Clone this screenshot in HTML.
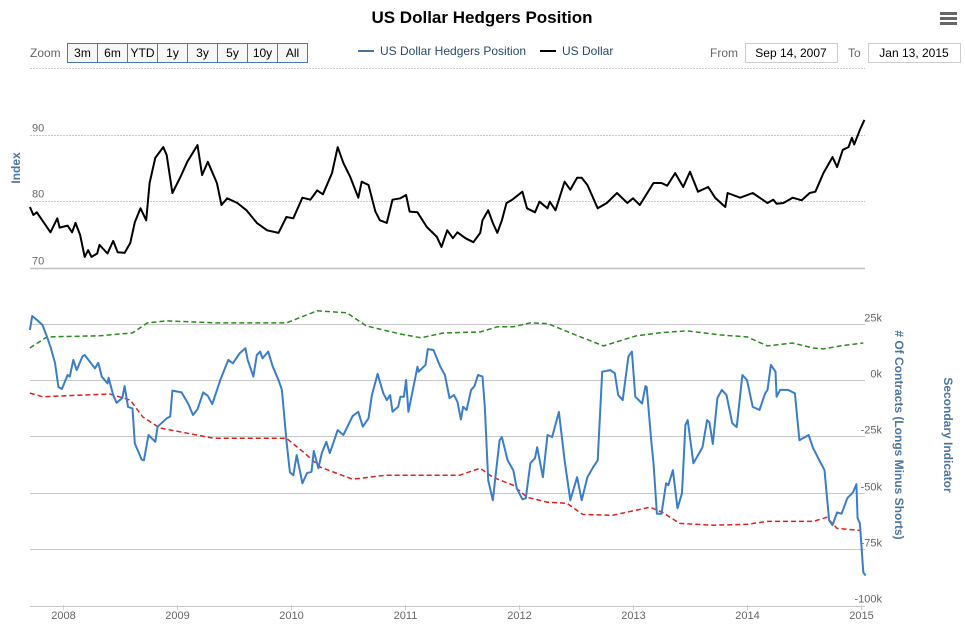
<!DOCTYPE html>
<html><head><meta charset="utf-8"><style>
body{margin:0;background:#fff;font-family:"Liberation Sans",sans-serif;}
svg{display:block}
</style></head><body>
<svg id="chart" width="965" height="628" xmlns="http://www.w3.org/2000/svg">
<text x="482" y="23" text-anchor="middle" font-size="17" font-weight="bold" fill="#000">US Dollar Hedgers Position</text>
<g><rect x="940" y="12" width="17" height="3" fill="#666"/><rect x="940" y="17" width="17" height="3" fill="#666"/><rect x="940" y="22" width="17" height="3" fill="#666"/></g>
<text x="30" y="57" font-size="12" fill="#666">Zoom</text>
<g id="zoomBtns"></g>
<g>
<g><line x1="358" y1="51" x2="374" y2="51" stroke="#4572a7" stroke-width="2"/><text x="380" y="55" font-size="12" fill="#274b6d">US Dollar Hedgers Position</text></g>
<g><line x1="540" y1="51" x2="556" y2="51" stroke="#000" stroke-width="2"/><text x="562" y="55" font-size="12" fill="#274b6d">US Dollar</text></g>
</g>
<text x="710" y="57" font-size="12" fill="#666">From</text>
<g><rect x="745.5" y="43.5" width="92" height="19" fill="#fff" stroke="#ccc"/><text x="791" y="57" text-anchor="middle" font-size="12" fill="#000">Sep 14, 2007</text></g>
<text x="848" y="57" font-size="12" fill="#666">To</text>
<g><rect x="868.5" y="43.5" width="92" height="19" fill="#fff" stroke="#ccc"/><text x="914" y="57" text-anchor="middle" font-size="12" fill="#000">Jan 13, 2015</text></g>
<g id="grid"></g>
<g id="series"></g>
<text transform="translate(20,168) rotate(-90)" text-anchor="middle" font-size="12" font-weight="bold" fill="#4d759e">Index</text>
<text transform="translate(895,435) rotate(90)" text-anchor="middle" font-size="12" font-weight="bold" fill="#4d759e"># Of Contracts (Longs Minus Shorts)</text>
<text transform="translate(944,435) rotate(90)" text-anchor="middle" font-size="12" font-weight="bold" fill="#4d759e">Secondary Indicator</text>
</svg>
<script>
const zoomLabels=["3m","6m","YTD","1y","3y","5y","10y","All"];
const yearTicks=[2008,2009,2010,2011,2012,2013,2014,2015];
const indexTicks=[70,80,90,100];
const contractTicks=[25,0,-25,-50,-75,-100];
const usdDates=[7.71,7.74,7.77,7.89,7.95,7.97,8.04,8.08,8.11,8.15,8.19,8.22,8.25,8.30,8.32,8.39,8.44,8.48,8.54,8.59,8.63,8.68,8.73,8.76,8.81,8.88,8.91,8.96,9.03,9.09,9.18,9.22,9.27,9.35,9.39,9.44,9.53,9.61,9.70,9.79,9.89,9.96,10.02,10.10,10.17,10.23,10.28,10.36,10.41,10.46,10.52,10.59,10.62,10.68,10.74,10.78,10.84,10.89,10.96,11.01,11.04,11.11,11.19,11.28,11.32,11.37,11.42,11.46,11.53,11.60,11.66,11.68,11.73,11.77,11.81,11.85,11.89,11.94,12.03,12.07,12.14,12.18,12.25,12.27,12.32,12.40,12.45,12.51,12.55,12.60,12.69,12.77,12.86,12.95,13.00,13.06,13.18,13.25,13.30,13.37,13.44,13.50,13.57,13.66,13.72,13.81,13.83,13.94,14.05,14.18,14.23,14.26,14.32,14.40,14.48,14.55,14.60,14.67,14.75,14.79,14.84,14.89,14.92,14.94,14.99,15.03];
const usdValues=[79.1,77.9,78.3,75.3,77.4,76,76.3,75.3,76.7,74.9,71.6,72.6,71.6,72.1,73.4,72.1,74,72.3,72.2,73.7,76.8,78.9,77.1,82.7,86.5,88.1,86.9,81.2,83.6,85.9,88.4,83.9,85.9,82.7,79.4,80.4,79.7,78.6,76.7,75.6,75.2,77.6,77.4,80.5,80.2,81.6,81,84.2,88.1,85.7,83.6,80.5,82.9,82.4,78.4,77.1,76.7,80.2,80.4,80.9,78.4,78.3,76.1,74.6,73.1,75.6,74.4,75.3,74.4,73.8,75.2,77.1,78.6,76.7,75.2,77.1,79.7,80.2,81.4,78.9,78.3,79.9,78.9,79.9,78.6,82.9,81.7,83.5,83.5,82.4,78.9,79.7,81.2,79.7,80.4,79.4,82.7,82.7,82.3,84.2,82.1,84.4,81.4,82.1,80.5,79.1,81.2,80.5,81.2,79.7,80.2,79.6,79.7,80.5,80.1,81.2,81.4,84.2,86.6,85.1,87.7,88.1,89.5,88.5,90.7,92.2];
const hedgeDates=[7.71,7.73,7.77,7.82,7.86,7.89,7.93,7.96,7.99,8.04,8.06,8.09,8.12,8.17,8.19,8.28,8.31,8.34,8.39,8.40,8.44,8.47,8.52,8.54,8.57,8.61,8.63,8.69,8.71,8.75,8.81,8.83,8.91,8.94,8.96,9.04,9.10,9.14,9.18,9.23,9.27,9.31,9.38,9.45,9.49,9.55,9.60,9.62,9.67,9.70,9.73,9.75,9.80,9.84,9.89,9.92,9.96,9.99,10.02,10.05,10.10,10.14,10.18,10.20,10.24,10.27,10.31,10.34,10.41,10.46,10.54,10.59,10.63,10.68,10.71,10.76,10.81,10.84,10.87,10.89,10.94,10.96,10.99,11.01,11.03,11.11,11.12,11.18,11.20,11.25,11.31,11.35,11.39,11.43,11.46,11.49,11.51,11.54,11.58,11.61,11.64,11.68,11.70,11.73,11.77,11.83,11.85,11.90,11.95,11.98,12.03,12.06,12.10,12.14,12.16,12.21,12.25,12.29,12.35,12.40,12.45,12.51,12.55,12.60,12.65,12.69,12.73,12.80,12.84,12.87,12.91,12.96,12.99,13.02,13.08,13.11,13.12,13.16,13.18,13.21,13.25,13.29,13.31,13.35,13.39,13.43,13.46,13.48,13.53,13.61,13.65,13.67,13.70,13.74,13.78,13.82,13.87,13.91,13.96,14.00,14.05,14.11,14.16,14.18,14.21,14.25,14.26,14.29,14.36,14.42,14.46,14.54,14.58,14.62,14.68,14.72,14.75,14.79,14.83,14.88,14.93,14.96,14.97,14.99,15.02,15.04];
const hedgeValues=[22.2,28.4,26.7,24.4,19.1,14.7,7.6,-3.1,-4,2.2,1.5,8.9,4.4,10.4,11.1,5.2,7.6,1.5,-1.5,1,-6.7,-10.1,-8,-2.7,-11.9,-12.6,-28.1,-35.3,-35.6,-24.4,-27.4,-20.7,-17,-16.2,-4.7,-5.5,-10.7,-15.5,-13,-5.5,-7,-10.7,0,8.9,7.4,11.9,14.1,8.9,1.5,11.1,12.6,9.6,12.6,5.9,0,-4.4,-26.7,-40.9,-42.2,-33.3,-45.8,-41.3,-40.7,-31.5,-39.1,-32.4,-27.4,-32.4,-22.2,-24.4,-16,-14.1,-20.7,-17,-6.7,2.7,-5.9,-8.9,-6.7,-14.1,-11.9,-7.4,-7.4,0,-14.1,5.9,3.7,6.7,13.7,13.3,5.9,2.2,-8,-6.7,-9.6,-17.5,-11.9,-13.3,-4.4,-2.7,2.2,1.5,-11.9,-44.4,-53.3,-26.7,-25.3,-35.6,-40,-48,-52.9,-52.4,-36.9,-34.7,-29.8,-43.1,-24.4,-25.3,-14.2,-35.6,-53.3,-43.1,-53.3,-43.1,-38.7,-35.6,3.7,4.4,3,-6.7,-8.9,10.4,12.6,-7.4,-10.4,-2.7,-3.1,-26.7,-36.9,-59.3,-59.3,-45.8,-46.7,-40,-56.9,-50.2,-20,-17.8,-36.9,-29.8,-17.8,-18.7,-28.4,-8,-4.4,-6.7,-19.1,-20.9,2.2,0,-11.9,-13.3,-5.9,-4.4,6.7,3.7,-7.4,-4.4,-4.4,-5.9,-26.7,-24.4,-30.2,-34.2,-40,-62.2,-64.4,-58.7,-59.3,-52.4,-49.8,-46.2,-61.3,-63.6,-85.3,-86.7];
const upperDates=[7.71,7.86,8.32,8.61,8.74,8.91,9.35,9.96,10.23,10.49,10.66,10.96,11.14,11.34,11.66,11.81,11.95,12.10,12.25,12.54,12.74,13.03,13.23,13.47,13.76,14.00,14.18,14.40,14.58,14.67,14.82,15.02];
const upperValues=[14.2,19.1,19.6,20.9,25.3,26.2,25.3,25.3,30.7,29.8,24,20.4,18.7,20.9,21.3,23.6,23.6,25.3,25,19.1,15.1,19.6,20.9,21.8,20,19.1,15.1,16.4,14.2,13.8,15.1,16.4];
const lowerDates=[7.71,7.82,8.41,8.59,8.70,8.85,9.09,9.32,9.96,10.11,10.26,10.54,10.83,11.25,11.48,11.66,11.77,11.95,12.07,12.25,12.42,12.56,12.82,13.15,13.26,13.41,13.70,14.00,14.18,14.58,14.70,14.79,14.99];
const lowerValues=[-5.8,-7.4,-6.2,-8.9,-16.4,-21.3,-23.6,-25.8,-25.8,-32,-38.7,-44,-42.2,-42.2,-42.2,-39.1,-43.1,-46.7,-52,-54.2,-54.7,-59.6,-60,-56.4,-58.7,-63.6,-64.4,-64,-62.7,-62.7,-60.9,-65.8,-66.7];

const NS="http://www.w3.org/2000/svg";
const X0=30,X1=865;
function xs(d){return 63+(d-8)*114;}
function yTop(v){return 201-(v-80)*6.65;}
function yBot(v){return 380-v*2.255;}
function mk(tag,attrs,parent){const e=document.createElementNS(NS,tag);for(const k in attrs)e.setAttribute(k,attrs[k]);parent.appendChild(e);return e;}

const zb=document.getElementById('zoomBtns');
zoomLabels.forEach((l,i)=>{
  const g=mk('g',{},zb);
  
  
  mk('rect',{x:67.5+i*30,y:43.5,width:30,height:19,fill:'#f7f7f7',stroke:'#4a7ab0'},g);
  const t=mk('text',{x:82.5+i*30,y:57,'text-anchor':'middle','font-size':12,fill:'#000'},g);t.textContent=l;
});

const grid=document.getElementById('grid');
indexTicks.forEach(v=>{
  const y=Math.round(yTop(v))+0.5;
  const ln=mk('line',{x1:X0,x2:X1,y1:y,y2:y,stroke:v===70?'#c0c0c0':'#c8c8c8','stroke-width':v===70?1.5:1,'stroke-dasharray':v===70?'':'2,1'},grid);
  
  
  if(v!==100){const t=mk('text',{x:32,y:y-4,'font-size':11,fill:'#666'},grid);t.textContent=v;
  
  }
});
contractTicks.forEach(v=>{
  const y=Math.round(yBot(v))+0.5;
  const ln=mk('line',{x1:X0,x2:X1,y1:y,y2:y,stroke:'#c8c8c8','stroke-width':1},grid);
  
  
  const t=mk('text',{x:882,y:y+(v===-100?-4:-3),'text-anchor':'end','font-size':11,fill:'#666'},grid);t.textContent=v+'k';
  
  
});
yearTicks.forEach(yr=>{
  const x=Math.round(xs(yr-2000))+0.5;
  const ln=mk('line',{x1:x,x2:x,y1:605,y2:610,stroke:'#c0d0e0'},grid);
  
  
  const t=mk('text',{x:x,y:619,'text-anchor':'middle','font-size':11,fill:'#666'},grid);t.textContent=yr;
  
  
});

const ser=document.getElementById('series');
function path(dates,vals,yf){return dates.map((d,i)=>(i?'L':'M')+xs(d).toFixed(1)+','+yf(vals[i]).toFixed(1)).join('');}
const p1=mk('path',{d:path(usdDates,usdValues,yTop),fill:'none',stroke:'#000','stroke-width':2,'stroke-linejoin':'round'},ser);


const p2=mk('path',{d:path(upperDates,upperValues,yBot),fill:'none',stroke:'#2a8a1e','stroke-width':1.5,'stroke-dasharray':'5,3'},ser);


const p3=mk('path',{d:path(lowerDates,lowerValues,yBot),fill:'none',stroke:'#e0201e','stroke-width':1.5,'stroke-dasharray':'5,3'},ser);


const p4=mk('path',{d:path(hedgeDates,hedgeValues,yBot),fill:'none',stroke:'#3a7dcc','stroke-width':2,'stroke-linejoin':'round'},ser);


</script>
</body></html>
